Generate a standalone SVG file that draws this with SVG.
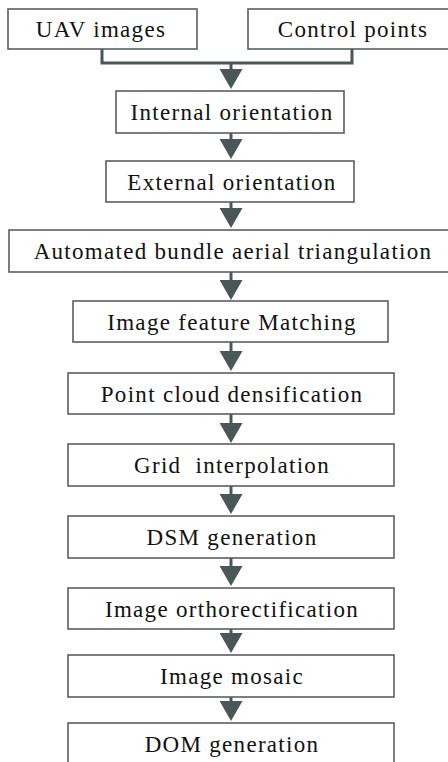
<svg xmlns="http://www.w3.org/2000/svg" width="448" height="762" viewBox="0 0 448 762">
  <style>
    .box { fill: #ffffff; stroke: #5a5f5f; stroke-width: 1.6; }
    .lbl { font-size: 23px; letter-spacing: 1.3px; fill: #111111; text-anchor: middle; }
    .wire { fill: none; stroke: #4b5757; stroke-width: 3; }
  </style>
  <defs>
    <marker id="head" viewBox="0 0 20 23" markerWidth="20" markerHeight="23" refX="2" refY="11.5" orient="auto" markerUnits="userSpaceOnUse">
      <path d="M0,0 L20,11.5 L0,23 z" fill="#4b5757"/>
    </marker>
  </defs>
  <rect width="448" height="762" fill="#ffffff"/>

  <!-- flow arrows -->
  <g id="connectors">
    <path class="wire" d="M102,49 V63 H352 V49"/>
    <path class="wire" d="M231,63 V71" marker-end="url(#head)"/>
    <path class="wire" d="M231,133 V141" marker-end="url(#head)"/>
    <path class="wire" d="M231,202 V210" marker-end="url(#head)"/>
    <path class="wire" d="M231,272 V282" marker-end="url(#head)"/>
    <path class="wire" d="M231,342 V353" marker-end="url(#head)"/>
    <path class="wire" d="M231,414 V425" marker-end="url(#head)"/>
    <path class="wire" d="M231,486 V496" marker-end="url(#head)"/>
    <path class="wire" d="M231,558 V568" marker-end="url(#head)"/>
    <path class="wire" d="M231,629 V635" marker-end="url(#head)"/>
    <path class="wire" d="M231,697 V703" marker-end="url(#head)"/>
  </g>

  <!-- processing steps -->
  <g font-family="Liberation Serif, Times New Roman, serif">
    <g id="uav-images">
      <rect class="box" x="8" y="9" width="189" height="40"/>
      <text class="lbl" x="101" y="37">UAV images</text>
    </g>
    <g id="control-points">
      <rect class="box" x="248" y="9" width="208" height="40"/>
      <text class="lbl" x="353" y="37">Control points</text>
    </g>
    <g id="internal-orientation">
      <rect class="box" x="116" y="91" width="228" height="42"/>
      <text class="lbl" x="232" y="120">Internal orientation</text>
    </g>
    <g id="external-orientation">
      <rect class="box" x="106" y="161" width="248" height="41"/>
      <text class="lbl" x="232" y="190">External orientation</text>
    </g>
    <g id="bundle-triangulation">
      <rect class="box" x="9" y="230" width="447" height="42"/>
      <text class="lbl" x="233" y="259">Automated bundle aerial triangulation</text>
    </g>
    <g id="feature-matching">
      <rect class="box" x="73" y="301" width="315" height="41"/>
      <text class="lbl" x="232" y="330">Image feature Matching</text>
    </g>
    <g id="densification">
      <rect class="box" x="68" y="373" width="326" height="41"/>
      <text class="lbl" x="232" y="402">Point cloud densification</text>
    </g>
    <g id="grid-interpolation">
      <rect class="box" x="68" y="444" width="326" height="42"/>
      <text class="lbl" x="232" y="473" xml:space="preserve">Grid  interpolation</text>
    </g>
    <g id="dsm-generation">
      <rect class="box" x="68" y="516" width="326" height="42"/>
      <text class="lbl" x="232" y="545">DSM generation</text>
    </g>
    <g id="orthorectification">
      <rect class="box" x="68" y="588" width="326" height="41"/>
      <text class="lbl" x="232" y="617">Image orthorectification</text>
    </g>
    <g id="image-mosaic">
      <rect class="box" x="68" y="655" width="326" height="42"/>
      <text class="lbl" x="232" y="684">Image mosaic</text>
    </g>
    <g id="dom-generation">
      <rect class="box" x="68" y="723" width="326" height="50"/>
      <text class="lbl" x="232" y="752">DOM generation</text>
    </g>
  </g>
</svg>
